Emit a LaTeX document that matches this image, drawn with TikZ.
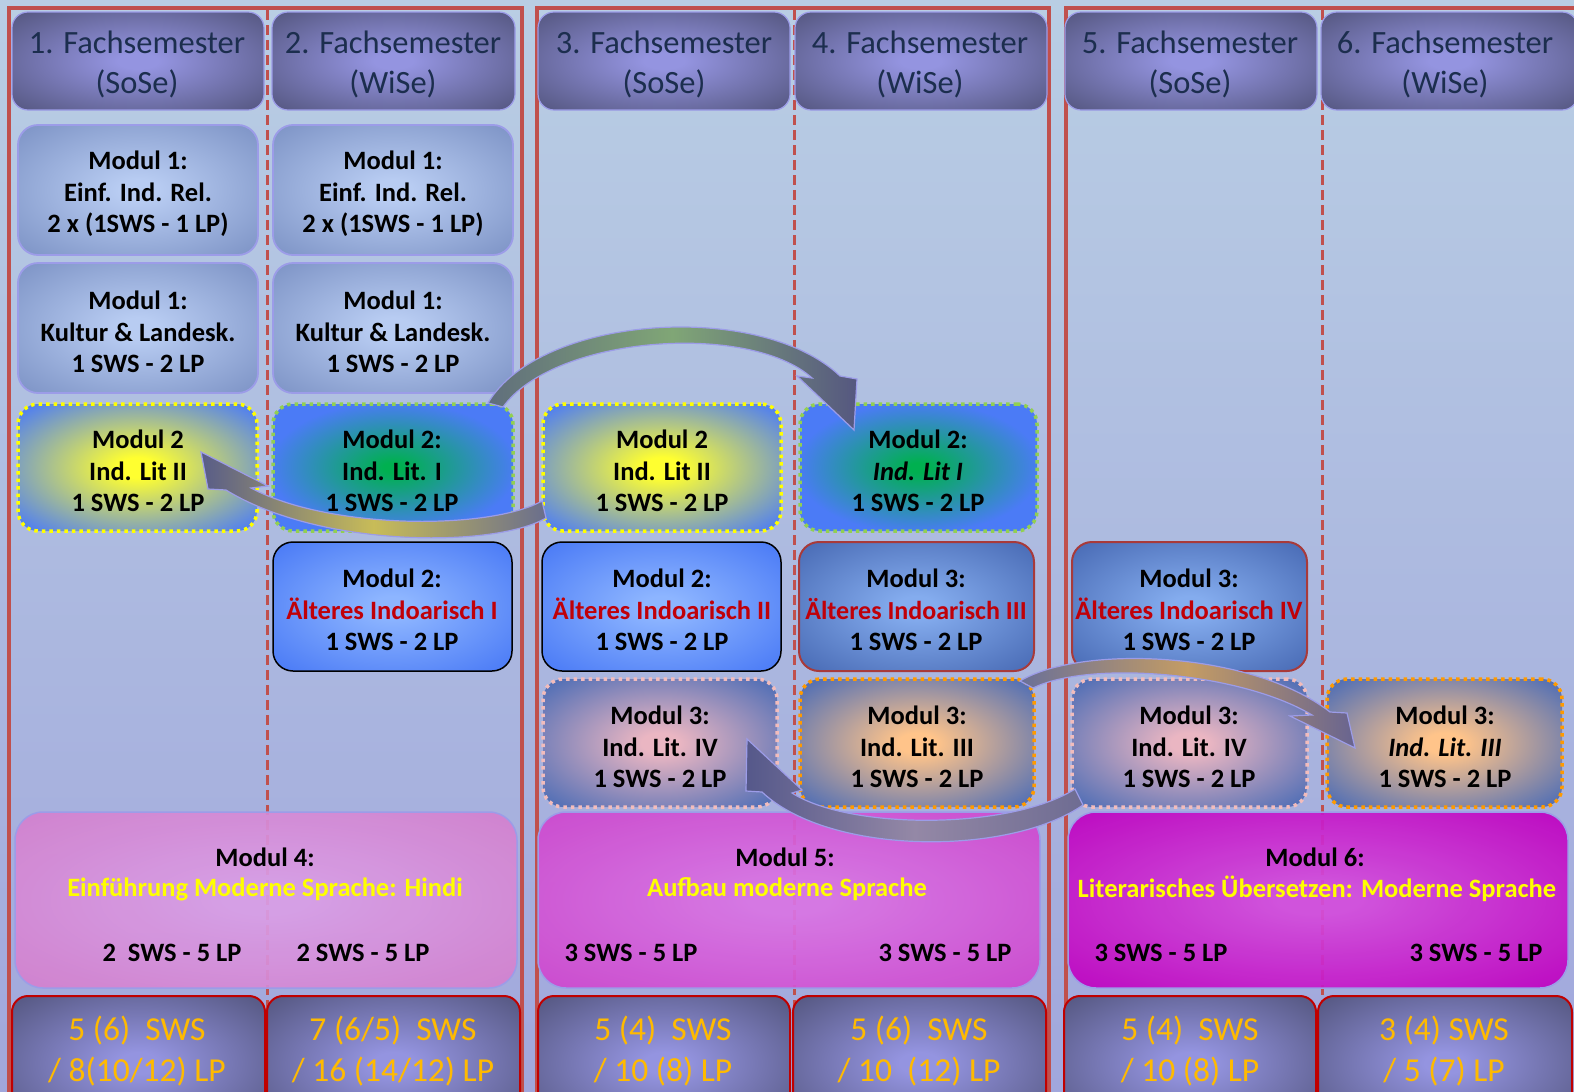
\documentclass[tikz,border=0pt]{standalone}
\usepackage{fontspec}
\setmainfont{Carlito}
\makeatletter
\pgfdeclareradialshading[tikz@radial@inner,tikz@radial@outer]{softrad}{\pgfpointorigin}{%
  color(0bp)=(tikz@radial@inner);color(4bp)=(tikz@radial@inner);%
  color(34bp)=(tikz@radial@outer);color(50bp)=(tikz@radial@outer)}
\pgfdeclareradialshading[tikz@radial@inner,tikz@radial@outer]{spotrad}{\pgfpointorigin}{%
  color(0bp)=(tikz@radial@inner);color(2bp)=(tikz@radial@inner);%
  color(26bp)=(tikz@radial@outer);color(50bp)=(tikz@radial@outer)}
\makeatother
\definecolor{bgtop}{HTML}{B9CEE4}
\definecolor{bgbot}{HTML}{A1A7DC}
\definecolor{redline}{HTML}{C0504D}
\definecolor{hdin}{HTML}{9494E0}
\definecolor{hdout}{HTML}{575984}
\definecolor{hdtext}{HTML}{1C2E4E}
\definecolor{lav}{HTML}{9C9CE8}
\definecolor{totred}{HTML}{C00000}
\definecolor{totorange}{HTML}{FFBA00}
\definecolor{m1in}{HTML}{B8CCF2}
\definecolor{m1out}{HTML}{7F95C7}
\definecolor{yelin}{HTML}{FFFF30}
\definecolor{blueout}{HTML}{4B7BF6}
\definecolor{grnin}{HTML}{00B050}
\definecolor{grnbd}{HTML}{92D050}
\definecolor{ltin}{HTML}{8DB5FF}
\definecolor{dkin}{HTML}{84ACEE}
\definecolor{dkout}{HTML}{4A6CB6}
\definecolor{dkred}{HTML}{A83A3A}
\definecolor{pinkin}{HTML}{EAB6C2}
\definecolor{pinkbd}{HTML}{F2BCBC}
\definecolor{peachin}{HTML}{FFC48A}
\definecolor{orangebd}{HTML}{FF9A00}
\definecolor{m5out}{HTML}{4E6DB5}
\definecolor{redtext}{HTML}{C00008}
\definecolor{mfourin}{HTML}{DA9EE6}
\definecolor{mfourout}{HTML}{D480CE}
\definecolor{mfivein}{HTML}{DA74E4}
\definecolor{mfiveout}{HTML}{CF46CE}
\definecolor{msixin}{HTML}{D44CDC}
\definecolor{msixout}{HTML}{C000C0}
\definecolor{yeltext}{HTML}{FFFF00}
\newcommand\hdfnt{\fontsize{32.5}{40}\selectfont}
\newcommand\mdfnt{\fontsize{26.5}{31.5}\selectfont\bfseries}
\newcommand\totfnt{\fontsize{33.5}{41}\selectfont}
\newcommand\boxnode[7]{%
  \node[#2, minimum width={(#5-#3)*1pt}, minimum height={(#6-#4)*1pt}, inner sep=0pt, align=center] (#1) at ({(#3+#5)/2},{(#4+#6)/2}) {#7};}
\tikzset{
  hdrbox/.style={draw=lav, line width=1.2pt, rounded corners=16pt, inner color=hdin, outer color=hdout, shading=softrad},
  hdrtext/.style={text=hdtext, font=\hdfnt, align=center, inner sep=0pt},
  totbox/.style={draw=totred, line width=2pt, rounded corners=16pt, inner color=hdin, outer color=hdout, shading=softrad},
  tottext/.style={text=totorange, font=\totfnt, align=center, inner sep=0pt},
  mtext/.style={font=\mdfnt, align=center, inner sep=0pt},
  dotbd/.style={line width=3.5pt, dash pattern=on 3.5pt off 4pt},
  mone/.style={draw=lav, line width=1.8pt, rounded corners=20pt, inner color=m1in, outer color=m1out, shading=softrad},
  myel/.style={draw=yeltext, dotbd, rounded corners=20pt, inner color=yelin, outer color=blueout, shading=softrad},
  mgrn/.style={draw=grnbd, dotbd, rounded corners=20pt, inner color=grnin, outer color=blueout, shading=spotrad},
  mblue/.style={draw=black, line width=1.5pt, rounded corners=20pt, inner color=ltin, outer color=blueout, shading=softrad},
  mdark/.style={draw=dkred, line width=2pt, rounded corners=20pt, inner color=dkin, outer color=dkout, shading=softrad},
  mpink/.style={draw=pinkbd, dotbd, rounded corners=20pt, inner color=pinkin, outer color=m5out, shading=softrad},
  mpeach/.style={draw=orangebd, dotbd, rounded corners=20pt, inner color=peachin, outer color=m5out, shading=softrad},
  bigbox/.style={draw=lav, line width=1.5pt, rounded corners=28pt, fill opacity=0.92},
  bigtext/.style={font=\mdfnt, inner sep=0pt},
  redbox/.style={draw=redline, line width=3.5pt},
  reddash/.style={draw=redline, line width=3pt, dash pattern=on 10pt off 5pt},
  arrowshape/.style={draw=lav, line width=1.2pt},
}
\begin{document}
\begin{tikzpicture}[x=1pt,y=-1pt]
\useasboundingbox (0,0) rectangle (1574,1092);
\clip (0,0) rectangle (1574,1092);
\fill[top color=bgtop, bottom color=bgbot] (0,0) rectangle (1574,1092);
% frames
\draw[redbox] (9,8) rectangle (522,1200);
\draw[redbox] (537,8) rectangle (1049,1200);
\draw[redbox] (1066,8) rectangle (1620,1200);
\coordinate (d1t) at (267,10); \coordinate (d1b) at (267,1100);
\coordinate (d2t) at (794,10); \coordinate (d2b) at (794,1100);
\coordinate (d3t) at (1322,10); \coordinate (d3b) at (1322,1100);
\draw[reddash] (d1t) -- (d1b);
\draw[reddash] (d2t) -- (d2b);
\draw[reddash] (d3t) -- (d3b);
% headers
\boxnode{h1}{hdrbox}{12}{12}{264}{110}{}
\boxnode{h2}{hdrbox}{272}{12}{515}{110}{}
\boxnode{h3}{hdrbox}{538}{12}{790}{110}{}
\boxnode{h4}{hdrbox}{795}{12}{1047}{110}{}
\boxnode{h5}{hdrbox}{1065}{12}{1317}{110}{}
\boxnode{h6}{hdrbox}{1321}{12}{1578}{110}{}
\node[hdrtext] (h1t) at (137,64) {1. Fachsemester\\(SoSe)};
\node[hdrtext] (h2t) at (393,64) {2. Fachsemester\\(WiSe)};
\node[hdrtext] (h3t) at (664,64) {3. Fachsemester\\(SoSe)};
\node[hdrtext] (h4t) at (920,64) {4. Fachsemester\\(WiSe)};
\node[hdrtext] (h5t) at (1190,64) {5. Fachsemester\\(SoSe)};
\node[hdrtext] (h6t) at (1445,64) {6. Fachsemester\\(WiSe)};
% row 1
\boxnode{r1a}{mone}{18}{125}{258}{255}{}
\boxnode{r1b}{mone}{273}{125}{513}{255}{}
\node[mtext] (r1at) at (138,194) {Modul 1:\\Einf. Ind. Rel.\\2 x (1SWS - 1 LP)};
\node[mtext] (r1bt) at (393,194) {Modul 1:\\Einf. Ind. Rel.\\2 x (1SWS - 1 LP)};
% row 2
\boxnode{r2a}{mone}{18}{263}{258}{393}{}
\boxnode{r2b}{mone}{273}{263}{513}{393}{}
\node[mtext] (r2at) at (138,332) {Modul 1:\\Kultur \& Landesk.\\1 SWS - 2 LP};
\node[mtext] (r2bt) at (393,332) {Modul 1:\\Kultur \& Landesk.\\1 SWS - 2 LP};
% row 3
\boxnode{r3a}{myel}{18}{404}{257}{531}{}
\boxnode{r3b}{mgrn}{273}{404}{513}{531}{}
\boxnode{r3c}{myel}{543}{404}{781}{531}{}
\boxnode{r3d}{mgrn}{800}{404}{1037}{531}{}
\node[mtext] (r3at) at (138,471) {Modul 2\\Ind. Lit II\\1 SWS - 2 LP};
\node[mtext] (r3bt) at (392,471) {Modul 2:\\Ind. Lit. I\\1 SWS - 2 LP};
\node[mtext] (r3ct) at (662,471) {Modul 2\\Ind. Lit II\\1 SWS - 2 LP};
\node[mtext] (r3dt) at (918,471) {Modul 2:\\\textit{Ind. Lit I}\\1 SWS - 2 LP};
% row 4
\boxnode{r4b}{mblue}{273}{542}{512}{671}{}
\boxnode{r4c}{mblue}{542}{542}{781}{671}{}
\boxnode{r4d}{mdark}{799}{542}{1034}{671}{}
\boxnode{r4e}{mdark}{1072}{542}{1307}{671}{}
\node[mtext] (r4bt) at (392,610) {Modul 2:\\\textcolor{redtext}{Älteres Indoarisch I}\\1 SWS - 2 LP};
\node[mtext] (r4ct) at (662,610) {Modul 2:\\\textcolor{redtext}{Älteres Indoarisch II}\\1 SWS - 2 LP};
\node[mtext] (r4dt) at (916,610) {Modul 3:\\\textcolor{redtext}{\fontsize{26}{31.5}\selectfont Älteres Indoarisch III}\\1 SWS - 2 LP};
\node[mtext] (r4et) at (1189,610) {Modul 3:\\\textcolor{redtext}{Älteres Indoarisch IV}\\1 SWS - 2 LP};
% row 5
\boxnode{r5c}{mpink}{543}{679}{777}{807}{}
\boxnode{r5d}{mpeach}{800}{679}{1034}{807}{}
\boxnode{r5e}{mpink}{1072}{679}{1307}{807}{}
\boxnode{r5f}{mpeach}{1327}{679}{1562}{807}{}
\node[mtext] (r5ct) at (660,747) {Modul 3:\\Ind. Lit. IV\\1 SWS - 2 LP};
\node[mtext] (r5dt) at (917,747) {Modul 3:\\Ind. Lit. III\\1 SWS - 2 LP};
\node[mtext] (r5et) at (1189,747) {Modul 3:\\Ind. Lit. IV\\1 SWS - 2 LP};
\node[mtext] (r5ft) at (1445,747) {Modul 3:\\\textit{Ind. Lit. III}\\1 SWS - 2 LP};
% big modules
\boxnode{m4}{bigbox, inner color=mfourin, outer color=mfourout, shading=softrad}{15}{812}{517}{988}{}
\boxnode{m5}{bigbox, inner color=mfivein, outer color=mfiveout, shading=softrad}{538}{812}{1040}{988}{}
\boxnode{m6}{bigbox, inner color=msixin, outer color=msixout, shading=softrad}{1068}{812}{1568}{988}{}
\node[bigtext] (m4a) at (265,857) {Modul 4:};
\node[bigtext, text=yeltext] (m4b) at (265,889) {Einführung Moderne Sprache: Hindi};
\node[bigtext] (m4c) at (172,953) {2~~SWS - 5 LP};
\node[bigtext] (m4d) at (363,953) {2 SWS - 5 LP};
\node[bigtext] (m5a) at (785,857) {Modul 5:};
\node[bigtext, text=yeltext] (m5b) at (787,889) {Aufbau moderne Sprache};
\node[bigtext] (m5c) at (631,953) {3 SWS - 5 LP};
\node[bigtext] (m5d) at (945,953) {3 SWS - 5 LP};
\node[bigtext] (m6a) at (1315,857) {Modul 6:};
\node[bigtext, text=yeltext] (m6b) at (1317,889) {Literarisches Übersetzen: Moderne Sprache};
\node[bigtext] (m6c) at (1161,953) {3 SWS - 5 LP};
\node[bigtext] (m6d) at (1476,953) {3 SWS - 5 LP};
% totals
\boxnode{b1}{totbox}{12}{996}{265}{1130}{}
\boxnode{b2}{totbox}{267}{996}{520}{1130}{}
\boxnode{b3}{totbox}{538}{996}{790}{1130}{}
\boxnode{b4}{totbox}{793}{996}{1046}{1130}{}
\boxnode{b5}{totbox}{1064}{996}{1316}{1130}{}
\boxnode{b6}{totbox}{1318}{996}{1572}{1130}{}
\node[tottext] (t1) at (137,1051) {5 (6)~~SWS\\/ 8(10/12) LP};
\node[tottext] (t2) at (393,1051) {7 (6/5)~~SWS\\/ 16 (14/12) LP};
\node[tottext] (t3) at (663,1051) {5 (4)~~SWS\\/ 10 (8) LP};
\node[tottext] (t4) at (919,1051) {5 (6)~~SWS\\/ 10~~(12) LP};
\node[tottext] (t5) at (1190,1051) {5 (4)~~SWS\\/ 10 (8) LP};
\node[tottext] (t6) at (1444,1051) {3 (4) SWS\\/ 5 (7) LP};
% arrows
\path[arrowshape, left color={rgb,255:red,96;green,110;blue,124}, right color={rgb,255:red,85;green,87;blue,128}, middle color={rgb,255:red,128;green,166;blue,118}]
  (488,403) .. controls (540,315) and (760,300) .. (840,376) -- (857,379) -- (854,430) -- (797,376) -- (812,378)
  .. controls (750,322) and (555,335) .. (503,407) -- cycle;
\path[arrowshape, left color={rgb,255:red,88;green,92;blue,136}, right color={rgb,255:red,106;green,110;blue,140}, middle color={rgb,255:red,200;green,188;blue,88}]
  (542,501) -- (546,518) .. controls (495,548) and (320,548) .. (226,490) -- (208,489) -- (201,452) -- (268,486) -- (251,488)
  .. controls (330,530) and (490,530) .. (542,501) -- cycle;
\path[arrowshape, left color={rgb,255:red,85;green,88;blue,138}, right color={rgb,255:red,110;green,108;blue,146}, middle color={rgb,255:red,148;green,136;blue,166}]
  (1075,789) -- (1083,805) .. controls (1010,856) and (830,856) .. (762,792) -- (746,791) -- (747,739) -- (802,790) -- (792,793)
  .. controls (850,830) and (1010,830) .. (1075,789) -- cycle;
\path[arrowshape, left color={rgb,255:red,106;green,112;blue,152}, right color={rgb,255:red,104;green,100;blue,144}, middle color={rgb,255:red,196;green,156;blue,100}]
  (1020,681) .. controls (1080,645) and (1250,650) .. (1330,712) -- (1347,713) -- (1355,748) -- (1290,716) -- (1312,715)
  .. controls (1240,672) and (1090,660) .. (1033,688) -- cycle;
\end{tikzpicture}
\end{document}
